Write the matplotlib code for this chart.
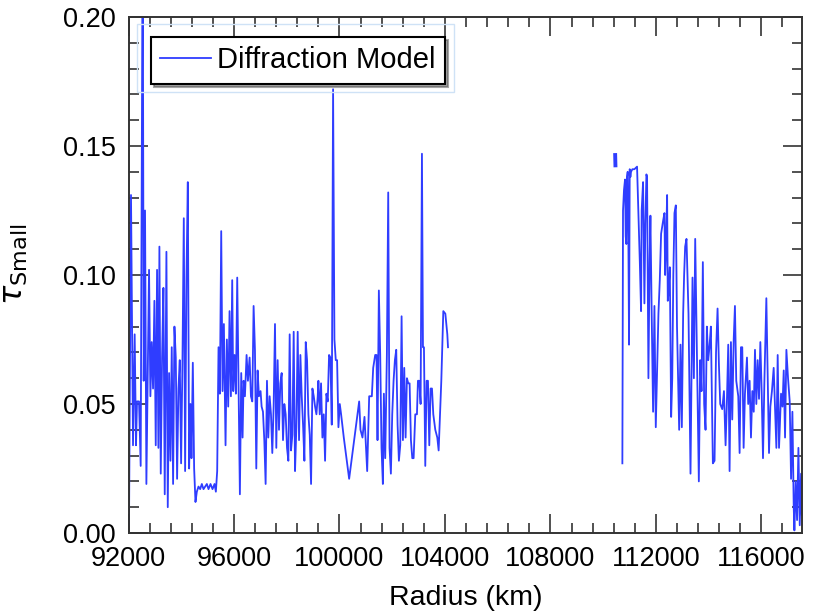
import matplotlib
matplotlib.use('Agg')
import matplotlib.pyplot as plt
from matplotlib.ticker import MultipleLocator, FormatStrFormatter
from matplotlib.patches import Rectangle

plt.rcParams['font.family'] = ['Liberation Sans', 'DejaVu Sans']
plt.rcParams['mathtext.fontset'] = 'dejavusans'

# Inner region (92000 - 104100 km)
r_inner = [92019, 92095, 92171, 92234, 92285, 92323, 92399, 92462, 92538, 92576,
           92627, 92678, 92729, 92779, 92830, 92880, 92931, 92982, 93033, 93083,
           93134, 93172, 93223, 93273, 93324, 93374, 93438, 93489, 93539, 93590,
           93640, 93691, 93742, 93793, 93843, 93894, 93944, 93995, 94046, 94097,
           94147, 94198, 94249, 94299, 94350, 94388, 94439, 94489, 94540, 94591,
           94654, 94718, 94781, 94844, 94908, 94971, 95034, 95110, 95186, 95262,
           95313, 95363, 95414, 95465, 95516, 95566, 95617, 95680, 95730, 95781,
           95832, 95883, 95933, 95971, 96022, 96072, 96123, 96174, 96224, 96275,
           96326, 96364, 96415, 96478, 96529, 96592, 96643, 96694, 96744, 96795,
           96846, 96896, 96947, 97008, 97048, 97099, 97150, 97200, 97251, 97301,
           97352, 97403, 97453, 97504, 97555, 97605, 97656, 97707, 97757, 97808,
           97859, 97909, 97960, 98011, 98062, 98112, 98163, 98214, 98264, 98315,
           98366, 98416, 98467, 98518, 98569, 98619, 98670, 98721, 98771, 98822,
           98873, 98923, 98974, 99025, 99075, 99126, 99176, 99201, 99252, 99302,
           99353, 99404, 99454, 99505, 99556, 99606, 99657, 99708, 99758, 99809,
           99860, 99910, 99961, 100012, 100062, 100164, 100265, 100367, 100468, 100569,
           100671, 100747, 100797, 100873, 100949, 101051, 101127, 101228, 101279, 101355,
           101405, 101443, 101494, 101545, 101595, 101646, 101684, 101735, 101798, 101849,
           101899, 101950, 102001, 102052, 102102, 102153, 102204, 102254, 102305, 102356,
           102406, 102457, 102508, 102558, 102609, 102660, 102710, 102761, 102812, 102875,
           102938, 102976, 103026, 103077, 103128, 103166, 103204, 103254, 103305, 103356,
           103406, 103457, 103508, 103558, 103634, 103710, 103761, 103862, 103938, 104015,
           104090, 104116]
tau_inner = [0.003, 0.131, 0.034, 0.077, 0.034, 0.051, 0.051, 0.026, 0.240, 0.059,
             0.125, 0.019, 0.060, 0.102, 0.053, 0.074, 0.056, 0.090, 0.034, 0.102,
             0.033, 0.111, 0.023, 0.068, 0.095, 0.015, 0.109, 0.010, 0.062, 0.028,
             0.072, 0.019, 0.080, 0.068, 0.021, 0.056, 0.067, 0.027, 0.066, 0.122,
             0.024, 0.099, 0.136, 0.025, 0.050, 0.029, 0.066, 0.025, 0.012, 0.016,
             0.018, 0.017, 0.019, 0.017, 0.018, 0.019, 0.017, 0.019, 0.017, 0.019,
             0.016, 0.024, 0.072, 0.054, 0.117, 0.055, 0.081, 0.034, 0.075, 0.049,
             0.086, 0.053, 0.098, 0.055, 0.069, 0.054, 0.099, 0.058, 0.015, 0.062,
             0.037, 0.059, 0.053, 0.069, 0.059, 0.068, 0.053, 0.051, 0.088, 0.071,
             0.025, 0.063, 0.053, 0.055, 0.049, 0.047, 0.036, 0.019, 0.059, 0.037,
             0.053, 0.046, 0.031, 0.049, 0.081, 0.033, 0.067, 0.040, 0.058, 0.062,
             0.036, 0.050, 0.046, 0.033, 0.028, 0.077, 0.032, 0.038, 0.078, 0.024,
             0.041, 0.078, 0.036, 0.069, 0.053, 0.042, 0.028, 0.074, 0.067, 0.046,
             0.038, 0.019, 0.056, 0.053, 0.049, 0.046, 0.053, 0.059, 0.046, 0.058,
             0.037, 0.046, 0.028, 0.054, 0.051, 0.069, 0.068, 0.042, 0.172, 0.075,
             0.067, 0.067, 0.041, 0.050, 0.046, 0.037, 0.029, 0.021, 0.029, 0.037,
             0.045, 0.051, 0.040, 0.037, 0.045, 0.024, 0.053, 0.053, 0.064, 0.069,
             0.069, 0.036, 0.094, 0.069, 0.033, 0.019, 0.054, 0.029, 0.069, 0.132,
             0.033, 0.023, 0.046, 0.059, 0.067, 0.071, 0.042, 0.028, 0.034, 0.084,
             0.036, 0.064, 0.037, 0.060, 0.058, 0.058, 0.036, 0.029, 0.029, 0.046,
             0.046, 0.059, 0.059, 0.050, 0.147, 0.072, 0.072, 0.026, 0.059, 0.059,
             0.034, 0.056, 0.056, 0.046, 0.040, 0.037, 0.032, 0.059, 0.086, 0.085,
             0.077, 0.072]

# isolated short feature near 110460 km
r_blip = [110455, 110465]
tau_blip = [0.1465, 0.1425]

# Outer region (110700 - 117540 km)
r_outer = [110728, 110753, 110790, 110829, 110855, 110880, 110905, 110930, 110956, 110981,
           111007, 111032, 111057, 111108, 111184, 111285, 111336, 111390, 111437, 111460,
           111513, 111564, 111600, 111640, 111665, 111716, 111760, 111792, 111840, 111893,
           111944, 111995, 112040, 112096, 112147, 112197, 112273, 112324, 112350, 112375,
           112425, 112450, 112476, 112527, 112578, 112620, 112660, 112704, 112755, 112800,
           112840, 112882, 112932, 112983, 113033, 113070, 113109, 113160, 113236, 113312,
           113388, 113440, 113490, 113628, 113679, 113730, 113780, 113830, 113882, 113932,
           113983, 114030, 114084, 114160, 114224, 114280, 114338, 114390, 114439, 114515,
           114580, 114642, 114690, 114743, 114794, 114845, 114895, 114950, 114997, 115047,
           115123, 115174, 115225, 115275, 115326, 115377, 115453, 115500, 115554, 115605,
           115656, 115710, 115757, 115808, 115858, 115910, 115960, 116010, 116061, 116112,
           116188, 116240, 116289, 116340, 116400, 116466, 116520, 116568, 116618, 116669,
           116745, 116800, 116847, 116897, 116948, 117010, 117074, 117125, 117176, 117226,
           117252, 117302, 117353, 117404, 117454, 117505, 117535]
tau_outer = [0.027, 0.125, 0.133, 0.137, 0.115, 0.112, 0.138, 0.140, 0.115, 0.073,
             0.141, 0.138, 0.140, 0.141, 0.141, 0.142, 0.124, 0.105, 0.086, 0.125,
             0.136, 0.089, 0.120, 0.139, 0.138, 0.060, 0.105, 0.123, 0.085, 0.047,
             0.088, 0.041, 0.060, 0.085, 0.098, 0.116, 0.121, 0.124, 0.100, 0.107,
             0.131, 0.090, 0.093, 0.103, 0.045, 0.060, 0.100, 0.124, 0.127, 0.080,
             0.060, 0.040, 0.073, 0.041, 0.085, 0.100, 0.111, 0.114, 0.085, 0.023,
             0.099, 0.060, 0.114, 0.020, 0.067, 0.055, 0.105, 0.050, 0.040, 0.080,
             0.067, 0.072, 0.080, 0.027, 0.028, 0.070, 0.087, 0.065, 0.050, 0.048,
             0.055, 0.034, 0.050, 0.073, 0.024, 0.074, 0.044, 0.075, 0.088, 0.059,
             0.053, 0.031, 0.072, 0.072, 0.033, 0.054, 0.068, 0.050, 0.059, 0.037,
             0.055, 0.047, 0.071, 0.050, 0.067, 0.052, 0.074, 0.055, 0.029, 0.058,
             0.091, 0.060, 0.031, 0.049, 0.055, 0.064, 0.048, 0.033, 0.069, 0.033,
             0.054, 0.049, 0.063, 0.037, 0.071, 0.060, 0.051, 0.021, 0.047, 0.010,
             0.001, 0.020, 0.005, 0.033, 0.003, 0.023, 0.007]

line_color = '#2f3dff'

fig = plt.figure(figsize=(8.22, 6.12), dpi=100)
ax = fig.add_axes([128.5 / 822, 79 / 612, 673.5 / 822, 516 / 612])

ax.plot(r_inner, tau_inner, color=line_color, lw=1.3, label='Diffraction Model')
ax.plot(r_blip, tau_blip, color=line_color, lw=2.8)
ax.plot(r_outer, tau_outer, color=line_color, lw=1.3)

ax.set_xlim(92000, 117540)
ax.set_ylim(0, 0.2)
ax.set_xticks(range(92000, 117000, 4000))
ax.xaxis.set_minor_locator(MultipleLocator(800))
ax.yaxis.set_major_locator(MultipleLocator(0.05))
ax.yaxis.set_minor_locator(MultipleLocator(0.01))
ax.yaxis.set_major_formatter(FormatStrFormatter('%.2f'))

ax.tick_params(which='both', direction='in', top=True, right=True,
               color='#333333', width=1.2, labelsize=19.5)
ax.tick_params(which='major', length=14, pad=9)
ax.tick_params(which='minor', length=7)
for s in ax.spines.values():
    s.set_linewidth(1.4)
    s.set_color('#333333')

ax.set_xlabel('Radius (km)', fontsize=20.5, labelpad=10)
ax.set_ylabel(r'$\tau_{\rm Small}$', fontsize=23)
ax.yaxis.set_label_coords(-0.146, 0.52)

leg = ax.legend(loc='upper left', bbox_to_anchor=(0.0334, 0.961), fontsize=21,
                frameon=True, fancybox=False, shadow=True, framealpha=1,
                edgecolor='black', handlelength=1.75, handletextpad=0.2,
                borderpad=0.32, borderaxespad=0)
leg.get_frame().set_linewidth(1.5)

ax.add_patch(Rectangle((0.0126, 0.855), 0.471, 0.132, transform=ax.transAxes,
                       fill=False, ec='#cfe2f6', lw=1, zorder=4))

fig.savefig('out.png', dpi=100)
